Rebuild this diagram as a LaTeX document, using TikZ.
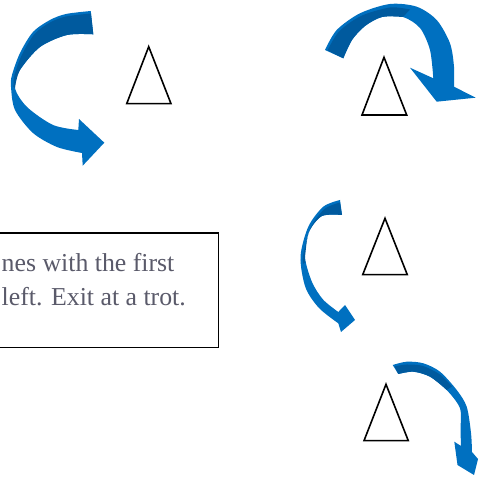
\documentclass[tikz,border=0pt]{standalone}
\usepackage{fontspec}
\usepackage{xcolor}
\usepackage{tikz}
\setmainfont{Liberation Serif}
\definecolor{turnblue}{RGB}{0,112,192}
\definecolor{turndark}{RGB}{0,90,158}
\definecolor{notegray}{RGB}{90,90,106}
\tikzset{
  turn/.style={fill=turnblue, draw=none},
  % darker back face of the ribbon
  turnback/.style={fill=turndark, draw=none},
  cone/.style={draw=black, line width=1.6pt, line join=miter, fill=white},
  notebox/.style={draw=black, line width=1.4pt, fill=white, inner sep=0pt},
  notetext/.style={font=\fontsize{25.8}{34.5}\selectfont, text=notegray, align=left, inner sep=0pt}
}

\begin{document}
\begin{tikzpicture}[x=1pt, y=-1pt]
  \useasboundingbox (0,0) rectangle (480,478);

  % cones
  \draw[cone] (148.7,46.7) -- (126.7,103.7) -- (171,103.7) -- cycle;
  \draw[cone] (384,57.3) -- (362,115) -- (406.7,115) -- cycle;
  \draw[cone] (385,218.3) -- (362.7,274.7) -- (407.3,274.7) -- cycle;
  \draw[cone] (386,384.3) -- (364,440.7) -- (408.3,440.7) -- cycle;

  % big turn, top left
  \fill[turn] (90.7,11) -- plot[smooth] coordinates {(90.7,11) (66,14) (50,20) (33,32) (20,53) (12,75) (11,87) (15,110) (33,133) (57,147) (82,153)}
    -- (82.7,165.7) -- (104.3,142.7) -- (79,119) -- (78.3,130)
    -- plot[smooth] coordinates {(78.3,130) (53,125) (27,107) (15,88) (20,70) (40,47) (67,35) (93.3,34.3)} -- cycle;
  \fill[turnback] (91,13.5) -- plot[smooth] coordinates {(91,13.5) (66,16.5) (50,22.5) (34.5,34) (22,54.5) (14.5,75) (13.5,87)}
    -- plot[smooth] coordinates {(15,88) (20,70) (40,47) (67,35) (93.3,34.3)} -- cycle;

  % big turn, top right
  \fill[turn] (325,50) -- plot[smooth] coordinates {(325,50) (336.7,30) (360,13.3) (390,4) (416.7,6.7) (436.7,20) (450,43.3) (454,66.7) (454,86.7)}
    -- (475.7,97.7) -- (436.7,101.7) -- (410,67.7) -- (433.3,78.3)
    -- plot[smooth] coordinates {(433.3,78.3) (430,50) (420,28) (403,17) (382,17) (365,26) (352,40) (343.3,58.3)} -- cycle;
  \fill[turnback] (327.5,50.5) -- plot[smooth] coordinates {(327.5,50.5) (339,31.5) (361,16) (390,7.5) (410,9.5)}
    -- plot[smooth] coordinates {(403,17) (382,17) (365,26) (352,40) (343.3,58.3)} -- cycle;

  % small turn, middle right
  \fill[turn] (340,200) -- plot[smooth] coordinates {(340,200) (323.3,206.7) (308.3,226.7) (300.5,256.7) (305.5,287.5) (319,308) (338.3,323.3)}
    -- (341,332) -- (355,320) -- (345,305) -- (338.3,312)
    -- plot[smooth] coordinates {(338.3,312) (323,299.5) (312,282) (305,257) (309,232) (322,216) (342,215)} -- cycle;
  \fill[turnback] (340,202.5) -- plot[smooth] coordinates {(340,202.5) (324.5,209) (310.5,228) (303,256) (303.5,264)}
    -- plot[smooth] coordinates {(305.5,262) (305,257) (309,232) (322,216) (342,215)} -- cycle;

  % small turn, bottom right
  \fill[turn] (392.7,365) -- plot[smooth] coordinates {(392.7,365) (406.7,361.7) (423.3,363.3) (440,371.7) (456.7,390) (466.7,406.7) (471,433) (472,452)}
    -- (478,459) -- (474,475) -- (457.5,465) -- (454.3,441.7) -- (461,446)
    -- plot[smooth] coordinates {(461,446) (460.5,430) (460,408.3) (446.7,390) (430,376.7) (413.3,371.7) (398.3,374)} -- cycle;
  \fill[turnback] (394.5,366.5) -- plot[smooth] coordinates {(394.5,366.5) (407,364.5) (423,366) (440,374.5) (452,386.5)}
    -- plot[smooth] coordinates {(446.7,390) (430,376.7) (413.3,371.7) (398.3,374)} -- cycle;

  % instruction card, running off the left edge
  \node[notebox, anchor=north east, minimum width=400pt, minimum height=114.7pt] (card) at (219,232.3) {};
  \node[notetext, anchor=base west] (note) at (1.5,306) {nes with the first\\left. Exit at a trot.};
\end{tikzpicture}
\end{document}
